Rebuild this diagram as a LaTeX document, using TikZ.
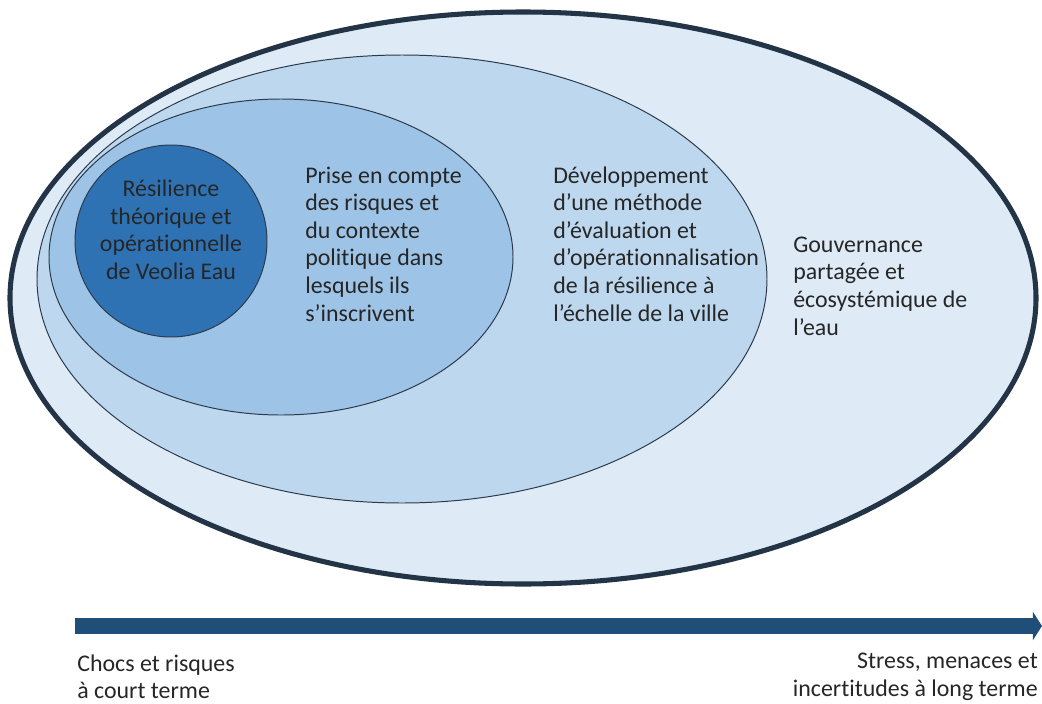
\documentclass[tikz,border=0pt]{standalone}
\usepackage{fontspec}
\setmainfont{Carlito}[Ligatures=NoCommon]
\usetikzlibrary{arrows.meta}

\definecolor{zoneA}{HTML}{2E72B4}
\definecolor{zoneB}{HTML}{9DC3E6}
\definecolor{zoneC}{HTML}{BDD7EE}
\definecolor{zoneD}{HTML}{DEEAF6}
\definecolor{rim}{HTML}{2B3A4A}
\definecolor{rimdark}{HTML}{243447}
\definecolor{axisblue}{HTML}{1F4E79}
\definecolor{txt}{HTML}{262626}

\tikzset{
  zonetext/.style={inner sep=0pt, align=left, text=txt},
  endtext/.style={inner sep=0pt, text=txt},
  timearrow/.style={axisblue, line width=10.7pt, -{Triangle[length=6.5pt, width=20pt]}}
}

\begin{document}
\begin{tikzpicture}[x=0.025cm, y=-0.025cm, font=\fontsize{17}{19.6}\selectfont, line join=round]
	\useasboundingbox (0,0) rectangle (1042,704);
	% nested zones, outside in
	\draw[rimdark, line width=3.6pt, fill=zoneD] (523,298) ellipse [x radius=513, y radius=286];
	\foreach \cx/\cy/\rx/\ry/\c in {402/279/365/224/zoneC, 281/257/232/158/zoneB, 171/241/96/96/zoneA}
		\draw[rim, line width=0.7pt, fill=\c] (\cx,\cy) ellipse [x radius=\rx, y radius=\ry];
	% labels
	\node[zonetext, align=center] (core) at (171,230) {Résilience\\théorique et\\opérationnelle\\de Veolia Eau};
	\node[zonetext, anchor=west] (risk) at (305,244) {Prise en compte\\des risques et\\du contexte\\politique dans\\lesquels ils\\s’inscrivent};
	\node[zonetext, anchor=west] (method) at (553,244) {Développement\\d’une méthode\\d’évaluation et\\d’opérationnalisation\\de la résilience à\\l’échelle de la ville};
	\node[zonetext, anchor=west] (gov) at (793,286) {Gouvernance\\partagée et\\écosystémique de\\l’eau};
	% time axis
	\coordinate (tstart) at (75,626);
	\coordinate (tend) at (1042,626);
	\draw[timearrow] (tstart) -- (tend);
	\node[endtext, anchor=west, align=left] (short) at (77,677) {Chocs et risques\\à court terme};
	\node[endtext, anchor=east, align=right] (long) at (1038,677) {Stress, menaces et\\incertitudes à long terme};
\end{tikzpicture}
\end{document}
